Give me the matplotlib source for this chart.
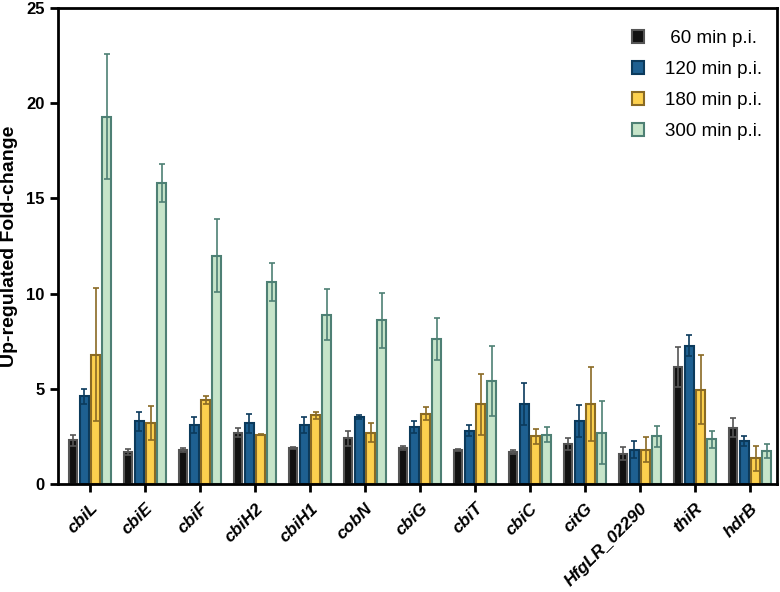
import numpy as np
import matplotlib.pyplot as plt

plt.rcParams['font.family'] = ['Liberation Sans', 'DejaVu Sans']

genes = ["cbiL", "cbiE", "cbiF", "cbiH2", "cbiH1", "cobN", "cbiG",
         "cbiT", "cbiC", "citG", "HfgLR_02290", "thiR", "hdrB"]
series_names = [" 60 min p.i.", "120 min p.i.", "180 min p.i.", "300 min p.i."]

# mean fold-change per time point
fc_60 = [2.3, 1.7, 1.8, 2.7, 1.9, 2.4, 1.9, 1.8, 1.7, 2.1, 1.6, 6.15, 2.95]
fc_120 = [4.6, 3.3, 3.1, 3.2, 3.1, 3.5, 3.0, 2.8, 4.2, 3.3, 1.8, 7.25, 2.25]
fc_180 = [6.8, 3.2, 4.4, 2.6, 3.6, 2.7, 3.7, 4.2, 2.5, 4.2, 1.8, 4.95, 1.35]
fc_300 = [19.3, 15.8, 12.0, 10.6, 8.9, 8.6, 7.6, 5.4, 2.6, 2.7, 2.5, 2.35, 1.75]

# standard deviations
sd_60 = [0.3, 0.15, 0.1, 0.25, 0.05, 0.4, 0.1, 0.05, 0.1, 0.3, 0.35, 1.05, 0.5]
sd_120 = [0.4, 0.5, 0.4, 0.5, 0.4, 0.1, 0.3, 0.3, 1.1, 0.85, 0.45, 0.55, 0.25]
sd_180 = [3.5, 0.9, 0.2, 0.05, 0.2, 0.5, 0.35, 1.6, 0.4, 1.95, 0.65, 1.8, 0.65]
sd_300 = [3.3, 1.0, 1.9, 1.0, 1.35, 1.45, 1.1, 1.85, 0.4, 1.65, 0.55, 0.45, 0.37]

means = [fc_60, fc_120, fc_180, fc_300]
sds = [sd_60, sd_120, sd_180, sd_300]
fills = ["#111111", "#1e6091", "#fdd14e", "#c6e4c9"]
edges = ["#555555", "#0b3a5c", "#8a6a24", "#4e8074"]

fig = plt.figure(figsize=(7.8, 5.92), dpi=100)
ax = fig.add_axes([0.0744, 0.1824, 0.9216, 0.8041])

x = np.arange(len(genes))
step = 0.205
width = 0.16
for i in range(4):
    pos = x + (i - 1.5) * step
    ax.bar(pos, means[i], width=width, color=fills[i], edgecolor=edges[i],
           linewidth=1.5, label=series_names[i], zorder=2)
    ax.errorbar(pos, means[i], yerr=sds[i], fmt="none", ecolor=edges[i],
                elinewidth=1.2, capsize=2.5, capthick=1.2, zorder=3)

ax.set_xlim(-0.58, 12.49)
ax.set_ylim(0, 25)
ax.set_yticks([0, 5, 10, 15, 20, 25])
ax.set_xticks(x)
ax.set_xticklabels(genes, rotation=45, ha="right", rotation_mode="anchor",
                   fontsize=12.5, fontweight="bold", fontstyle="italic")
for lab in ax.get_yticklabels():
    lab.set_fontsize(12)
    lab.set_fontweight("bold")
ax.tick_params(axis="both", direction="out", width=2, length=6)
ax.tick_params(axis="x", pad=6)
for sp in ax.spines.values():
    sp.set_linewidth(2)
ax.set_ylabel("Up-regulated Fold-change", fontsize=14, fontweight="bold",
              labelpad=6)

ax.legend(loc="upper right", frameon=False, fontsize=13.5, handlelength=0.65,
          handleheight=0.65, handletextpad=1.1, labelspacing=0.74,
          borderaxespad=0, bbox_to_anchor=(0.99, 0.969))

fig.savefig("out.png", dpi=100)
